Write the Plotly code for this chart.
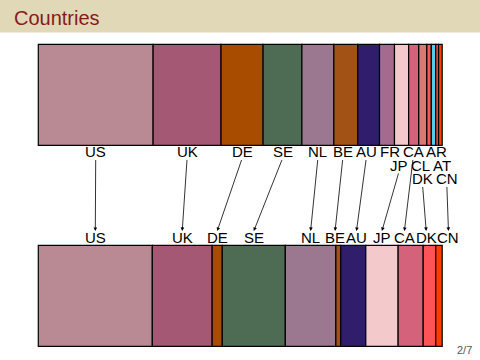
import plotly.graph_objects as go

# ---------------- data ----------------
top_countries = ["US", "UK", "DE", "SE", "NL", "BE", "AU", "FR", "JP", "CA", "CL", "DK", "AR", "AT", "CN"]
top_shares = [28.4, 16.8, 10.4, 9.6, 7.9, 5.9, 5.4, 3.7, 3.5, 2.5, 2.0, 1.1, 1.1, 0.7, 0.9]

bottom_countries = ["US", "UK", "DE", "SE", "NL", "BE", "AU", "JP", "CA", "DK", "CN"]
bottom_shares = [28.2, 14.8, 2.5, 15.6, 12.5, 1.2, 6.2, 8.0, 6.2, 3.1, 1.6]

country_colors = {
    "US": "#b98a94", "UK": "#a45874", "DE": "#a84d00", "SE": "#4e6b53",
    "NL": "#9b788f", "BE": "#a35216", "AU": "#301d6b", "FR": "#a66a8f",
    "JP": "#f4c9cc", "CA": "#d4627a", "CL": "#d87a74", "DK": "#ff5457",
    "AR": "#55ccee", "AT": "#ff4848", "CN": "#ff3d00",
}

title_text = "Countries"
page_text = "2/7"

# ---------------- layout constants ----------------
W, H = 480, 360
X_LEFT_PX = 38.3
PX_PER_UNIT = 4.043
TOP_BAR = (44.3, 145.3)
BOT_BAR = (245.3, 346.3)
FONT = "Liberation Sans, Arial, sans-serif"
LABEL_SIZE = 15
ROW_Y = [151.5, 165.0, 178.5]
BOT_LABEL_Y = 237.5
ARROW_START = [158.5, 172.0, 185.5]
ARROW_TIP = 231.0
TOP_PAD_PX = 3.0
BOT_PAD_PX = 1.0
# label tier (row) for crowded top labels; others on row 0
TOP_TIER = {"JP": 1, "CL": 1, "AT": 1, "DK": 2, "CN": 2}

EM = {"U": .722, "S": .667, "K": .667, "D": .722, "E": .667, "N": .722, "L": .556,
      "B": .667, "A": .667, "F": .611, "R": .722, "J": .5, "P": .667, "C": .722, "T": .611}


def text_w(s, pad):
    return (sum(EM.get(c, .6) for c in s) * LABEL_SIZE + pad) / PX_PER_UNIT


def cum(vals):
    out, s = [], 0.0
    for v in vals:
        out.append(s)
        s += v
    return out


def relax(items):
    # items: list of [center, width]; push apart overlapping neighbours
    for _ in range(600):
        moved = False
        for i in range(len(items) - 1):
            a, b = items[i], items[i + 1]
            need = (a[1] + b[1]) / 2
            d = b[0] - a[0]
            if d < need - 1e-6:
                p = (need - d) / 2
                a[0] -= p
                b[0] += p
                moved = True
        if not moved:
            break
    return [c for c, _ in items]


top_base = cum(top_shares)
bot_base = cum(bottom_shares)
top_centers = {c: b + v / 2 for c, b, v in zip(top_countries, top_base, top_shares)}
bot_centers = {c: b + v / 2 for c, b, v in zip(bottom_countries, bot_base, bottom_shares)}

# top label positions per tier
top_pos = {}
for tier in range(3):
    names = [c for c in top_countries if TOP_TIER.get(c, 0) == tier]
    xs = relax([[top_centers[c], text_w(c, TOP_PAD_PX)] for c in names])
    top_pos.update(dict(zip(names, xs)))

bxs = relax([[bot_centers[c], text_w(c, BOT_PAD_PX)] for c in bottom_countries])
bot_pos = dict(zip(bottom_countries, bxs))

fig = go.Figure()
for names, vals, base, (y0, y1) in [
    (top_countries, top_shares, top_base, TOP_BAR),
    (bottom_countries, bottom_shares, bot_base, BOT_BAR),
]:
    fig.add_trace(go.Bar(
        orientation="h",
        y=[(y0 + y1) / 2] * len(vals),
        x=vals,
        base=base,
        width=y1 - y0,
        marker=dict(color=[country_colors[c] for c in names],
                    line=dict(color="black", width=1.2)),
        hoverinfo="skip",
        showlegend=False,
    ))

ann = []
for c in top_countries:
    ann.append(dict(x=top_pos[c], y=ROW_Y[TOP_TIER.get(c, 0)], xref="x", yref="y",
                    text=c, showarrow=False, xanchor="center", yanchor="middle",
                    font=dict(family=FONT, size=LABEL_SIZE, color="black")))
for c in bottom_countries:
    ann.append(dict(x=bot_pos[c], y=BOT_LABEL_Y, xref="x", yref="y",
                    text=c, showarrow=False, xanchor="center", yanchor="middle",
                    font=dict(family=FONT, size=LABEL_SIZE, color="black")))
    if c in top_pos:
        ann.append(dict(x=bot_pos[c], y=ARROW_TIP, xref="x", yref="y",
                        ax=top_pos[c], ay=ARROW_START[TOP_TIER.get(c, 0)],
                        axref="x", ayref="y", text="", showarrow=True,
                        arrowhead=2, arrowsize=0.9, arrowwidth=0.8,
                        arrowcolor="black", standoff=0, startstandoff=0))

ann.append(dict(x=12 / W, y=1 - 18 / H, xref="paper", yref="paper", text=title_text,
                showarrow=False, xanchor="left", yanchor="middle",
                font=dict(family=FONT, size=20, color="#861b1b")))
ann.append(dict(x=474 / W, y=1 - 350 / H, xref="paper", yref="paper", text=page_text,
                showarrow=False, xanchor="right", yanchor="middle",
                font=dict(family=FONT, size=11, color="#555555")))

x_min = -X_LEFT_PX / PX_PER_UNIT
x_max = (W - X_LEFT_PX) / PX_PER_UNIT

fig.update_layout(
    width=W, height=H,
    margin=dict(l=0, r=0, t=0, b=0),
    paper_bgcolor="white", plot_bgcolor="white",
    barmode="overlay",
    xaxis=dict(range=[x_min, x_max], visible=False, fixedrange=True),
    yaxis=dict(range=[H, 0], visible=False, fixedrange=True),
    shapes=[dict(type="rect", xref="paper", yref="paper", x0=0, x1=1,
                 y0=1 - 32.5 / H, y1=1, fillcolor="#e0d8b7", line=dict(width=0),
                 layer="below")],
    annotations=ann,
)

fig.write_html(
    "out.html",
    config={"displayModeBar": False},
    post_script="document.body.style.margin='0';document.body.style.overflow='hidden';",
)
